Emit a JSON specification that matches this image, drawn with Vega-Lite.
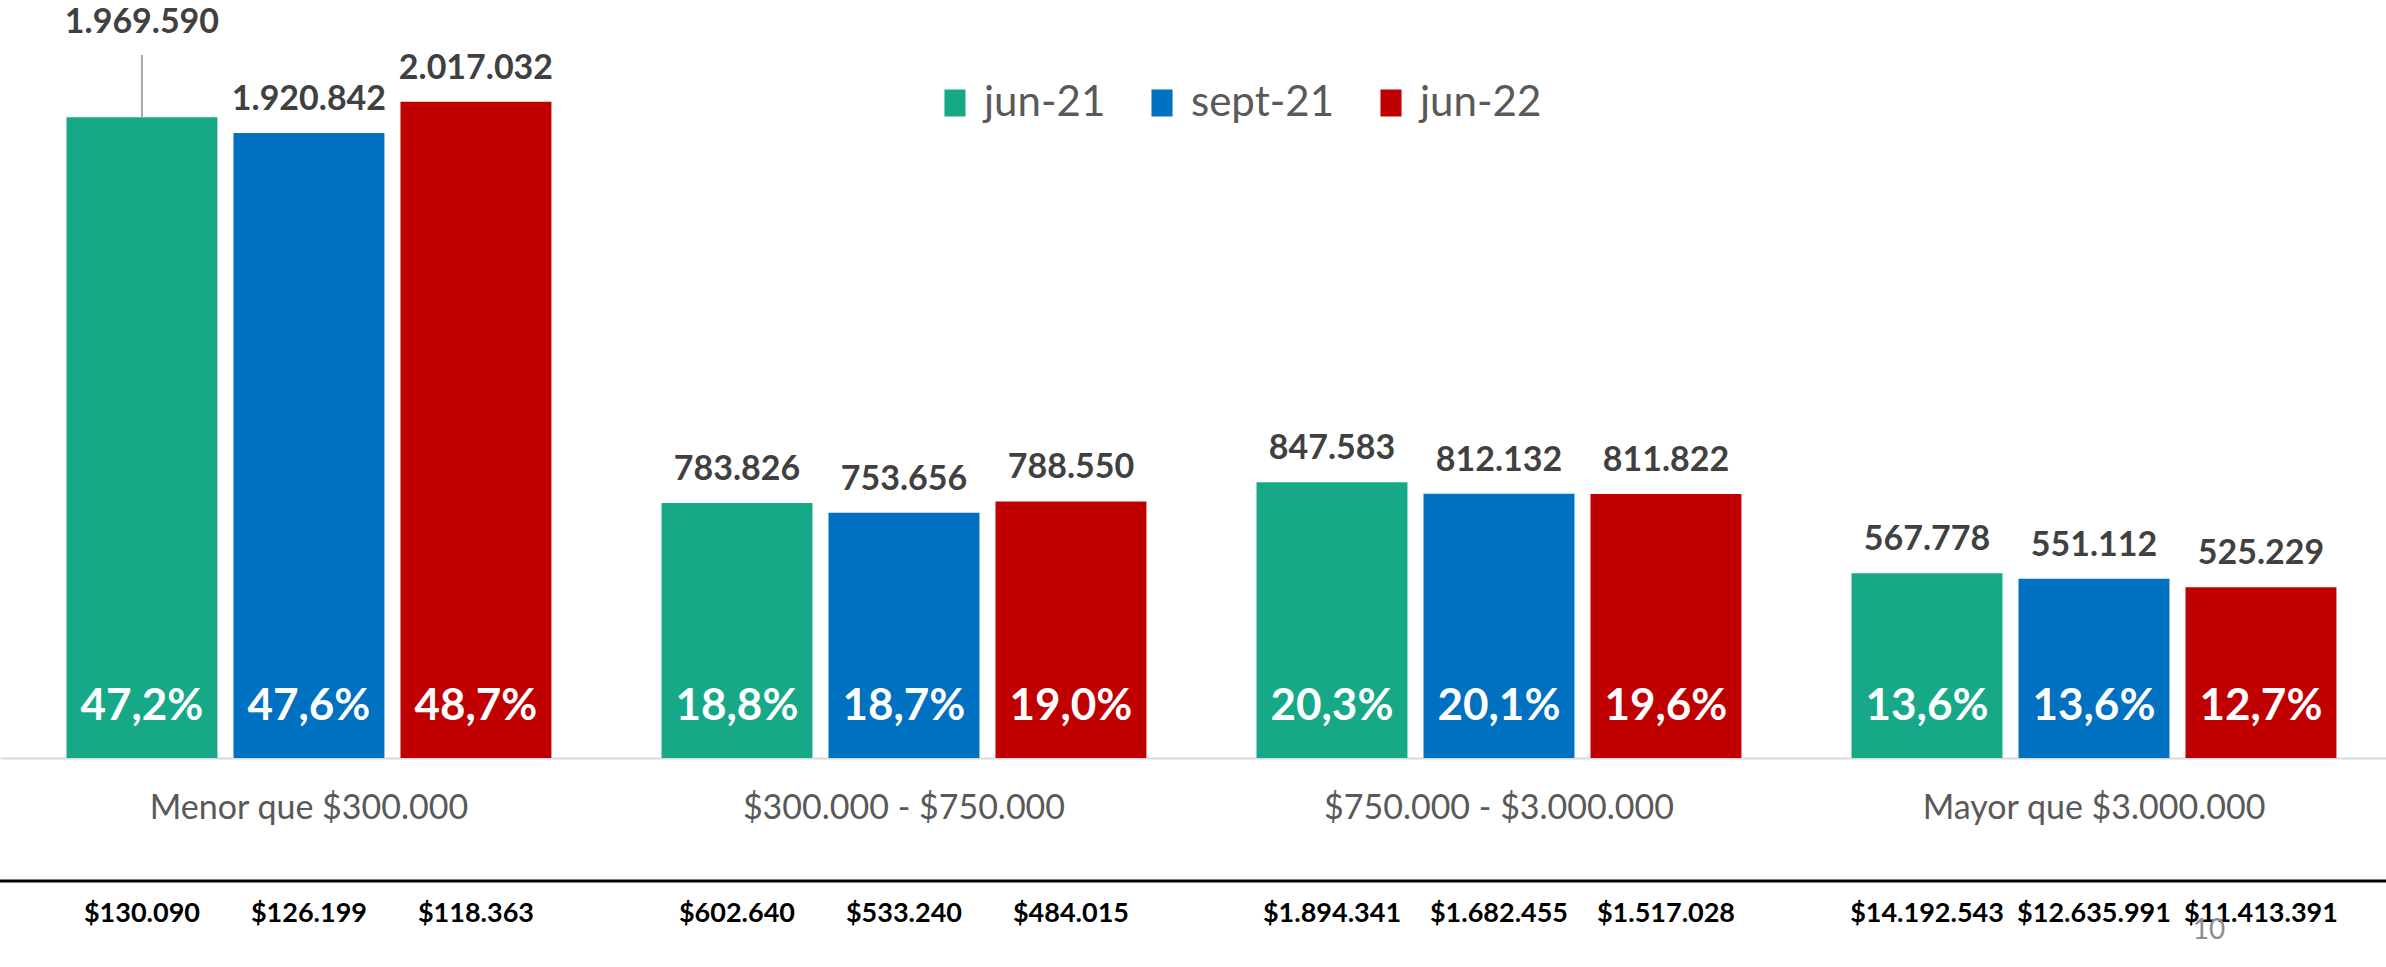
{
  "$schema": "https://vega.github.io/schema/vega-lite/v6.json",
  "width": 2386,
  "height": 758,
  "autosize": {"type": "none"},
  "padding": {"left": 0, "top": 0, "right": 0, "bottom": 209},
  "background": "white",
  "config": {
    "view": {"stroke": null},
    "font": "Lato",
    "locale": {"number": {"decimal": ",", "thousands": ".", "grouping": [3], "currency": ["$", ""]}}
  },
  "data": {
    "values": [
      {"category": "Menor que $300.000", "period": "jun-21", "value": 1969590, "pct": 0.472, "avg": 130090},
      {"category": "Menor que $300.000", "period": "sept-21", "value": 1920842, "pct": 0.476, "avg": 126199},
      {"category": "Menor que $300.000", "period": "jun-22", "value": 2017032, "pct": 0.487, "avg": 118363},
      {"category": "$300.000 - $750.000", "period": "jun-21", "value": 783826, "pct": 0.188, "avg": 602640},
      {"category": "$300.000 - $750.000", "period": "sept-21", "value": 753656, "pct": 0.187, "avg": 533240},
      {"category": "$300.000 - $750.000", "period": "jun-22", "value": 788550, "pct": 0.190, "avg": 484015},
      {"category": "$750.000 - $3.000.000", "period": "jun-21", "value": 847583, "pct": 0.203, "avg": 1894341},
      {"category": "$750.000 - $3.000.000", "period": "sept-21", "value": 812132, "pct": 0.201, "avg": 1682455},
      {"category": "$750.000 - $3.000.000", "period": "jun-22", "value": 811822, "pct": 0.196, "avg": 1517028},
      {"category": "Mayor que $3.000.000", "period": "jun-21", "value": 567778, "pct": 0.136, "avg": 14192543},
      {"category": "Mayor que $3.000.000", "period": "sept-21", "value": 551112, "pct": 0.136, "avg": 12635991},
      {"category": "Mayor que $3.000.000", "period": "jun-22", "value": 525229, "pct": 0.127, "avg": 11413391}
    ]
  },
  "layer": [
    {
      "encoding": {
        "x": {
          "field": "category", "type": "nominal",
          "sort": ["Menor que $300.000", "$300.000 - $750.000", "$750.000 - $3.000.000", "Mayor que $3.000.000"],
          "scale": {"paddingInner": 0.185, "paddingOuter": 0.0975, "align": 0.573},
          "axis": {"title": null, "ticks": false, "domainColor": "#d9d9d9", "domainWidth": 2, "labelFont": "Lato", "labelFontSize": 34, "labelColor": "#595959", "labelPadding": 50, "labelBaseline": "middle", "labelAngle": 0, "labelLimit": 600}
        },
        "xOffset": {
          "field": "period", "type": "nominal",
          "sort": ["jun-21", "sept-21", "jun-22"],
          "scale": {"paddingInner": 0.096, "paddingOuter": 0}
        }
      },
      "layer": [
        {
          "mark": {"type": "bar"},
          "encoding": {
            "y": {"field": "value", "type": "quantitative", "scale": {"domain": [0, 2330000]}, "axis": null},
            "color": {
              "field": "period", "type": "nominal",
              "scale": {"domain": ["jun-21", "sept-21", "jun-22"], "range": ["#17a987", "#0070c0", "#c00000"]},
              "legend": {"title": null, "orient": "none", "legendX": 934, "legendY": 82, "direction": "horizontal", "columns": 3, "symbolType": "M-0.78,-1H0.78V1H-0.78Z", "symbolSize": 729, "symbolStrokeWidth": 0, "symbolOpacity": 1, "labelFont": "Lato", "labelFontSize": 42, "labelColor": "#595959", "labelOffset": 8, "columnPadding": 35, "labelLimit": 400, "padding": 0}
            }
          }
        },
        {
          "transform": [{"filter": "!(datum.category == 'Menor que $300.000' && datum.period == 'jun-21')"}],
          "mark": {"type": "text", "baseline": "middle", "dy": -33, "fontSize": 34, "fontWeight": "bold", "color": "#404040", "font": "Lato"},
          "encoding": {
            "y": {"field": "value", "type": "quantitative", "scale": {"domain": [0, 2330000]}, "axis": null},
            "text": {"field": "value", "type": "quantitative", "format": ",.0f"}
          }
        },
        {
          "transform": [{"filter": "datum.category == 'Menor que $300.000' && datum.period == 'jun-21'"}],
          "mark": {"type": "rule", "color": "#a6a6a6", "strokeWidth": 2},
          "encoding": {
            "y": {"field": "value", "type": "quantitative", "scale": {"domain": [0, 2330000]}, "axis": null},
            "y2": {"datum": 2161000}
          }
        },
        {
          "transform": [{"filter": "datum.category == 'Menor que $300.000' && datum.period == 'jun-21'"}],
          "mark": {"type": "text", "baseline": "middle", "dy": -94, "fontSize": 34, "fontWeight": "bold", "color": "#404040", "font": "Lato"},
          "encoding": {
            "y": {"field": "value", "type": "quantitative", "scale": {"domain": [0, 2330000]}, "axis": null},
            "text": {"field": "value", "type": "quantitative", "format": ",.0f"}
          }
        },
        {
          "mark": {"type": "text", "baseline": "middle", "dy": -51, "fontSize": 44, "fontWeight": "bold", "color": "white", "font": "Lato"},
          "encoding": {
            "y": {"datum": 0, "type": "quantitative", "scale": {"domain": [0, 2330000]}, "axis": null},
            "text": {"field": "pct", "type": "quantitative", "format": ".1%"}
          }
        },
        {
          "mark": {"type": "text", "baseline": "middle", "fontSize": 27, "fontWeight": "bold", "color": "black", "font": "Lato"},
          "encoding": {
            "y": {"datum": -479500, "type": "quantitative", "scale": {"domain": [0, 2330000]}, "axis": null},
            "text": {"field": "avg", "type": "quantitative", "format": "$,.0f"}
          }
        },
        {
          "data": {"values": [{"page": "10"}]},
          "mark": {"type": "text", "baseline": "middle", "dx": -52, "fontSize": 28, "color": "#8c8c8c", "font": "Lato"},
          "encoding": {
            "x": {"datum": "Mayor que $3.000.000", "type": "nominal"},
            "xOffset": {"datum": "jun-22", "type": "nominal"},
            "y": {"datum": -531800, "type": "quantitative", "scale": {"domain": [0, 2330000]}, "axis": null},
            "text": {"field": "page", "type": "nominal"}
          }
        }
      ]
    },
    {
      "data": {"values": [{"line": 1}]},
      "mark": {"type": "rule", "color": "black", "strokeWidth": 3},
      "encoding": {
        "y": {"datum": -378100, "type": "quantitative", "scale": {"domain": [0, 2330000]}, "axis": null}
      }
    }
  ]
}
